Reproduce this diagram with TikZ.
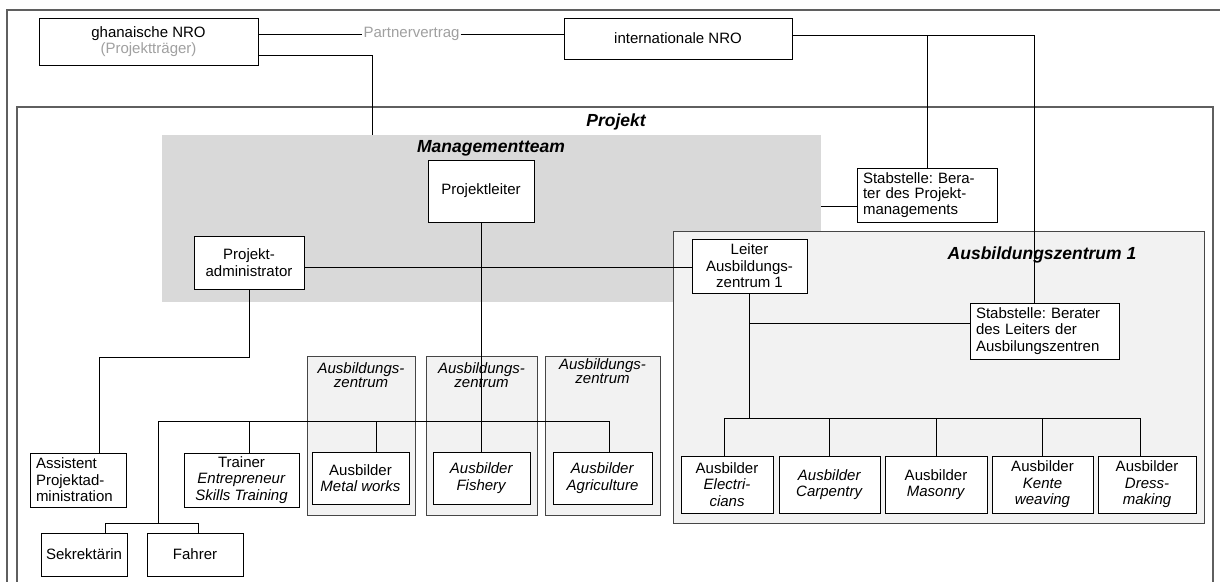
\documentclass[tikz,border=0pt]{standalone}
\usepackage{fontspec}
\setmainfont{Liberation Sans}
\frenchspacing
\definecolor{mgmtgray}{RGB}{217,217,217}
\definecolor{azfill}{RGB}{242,242,242}
\definecolor{azline}{RGB}{70,70,70}
\definecolor{frameline}{RGB}{95,95,95}
\definecolor{softtext}{RGB}{160,160,160}
\begin{document}
\begin{tikzpicture}[x=1pt,y=-1pt,
  txt/.style={font=\fontsize{15}{16.5}\selectfont\frenchspacing},
  box/.style={txt, draw=black, fill=white, line width=1pt, inner sep=2pt, align=center},
  lbox/.style={box, align=left, inner xsep=6pt},
  region/.style={draw=azline, fill=azfill, line width=1pt, inner sep=0pt},
  header/.style={font=\fontsize{17.5}{19}\selectfont\bfseries\itshape},
  azlabel/.style={font=\fontsize{15}{14.5}\selectfont\itshape, align=center},
  conn/.style={draw=black, line width=1pt},
  frame/.style={draw=frameline, line width=1.2pt}
]
\useasboundingbox (0,0) rectangle (1220,581);
\clip (0,0) rectangle (1220,581);
\fill[white] (0,0) rectangle (1220,581);

% outer frame and project frame
\draw[frame] (7,10) rectangle (1240,600);
\draw[frame, line width=1.6pt] (17,107) rectangle (1213,600);
\node[header] at (616,122) {Projekt};

% management team area
\node[fill=mgmtgray, minimum width=659pt, minimum height=167pt, inner sep=0pt] (mgmt) at (491.5,218.5) {};
\node[header] at (491,148) {Managementteam};

% training centre 1 area
\node[region, minimum width=531pt, minimum height=292pt] (az1) at (938.5,377) {};
\node[header] at (1042,255) {Ausbildungszentrum 1};

% small training centres
\node[region, minimum width=108pt, minimum height=159pt] (azM) at (361,435.5) {};
\node[region, minimum width=111pt, minimum height=159pt] (azF) at (481.5,435.5) {};
\node[region, minimum width=115pt, minimum height=159pt] (azA) at (602.5,435.5) {};
\node[azlabel] at (361,375) {Ausbildungs-\\zentrum};
\node[azlabel] at (481.5,375) {Ausbildungs-\\zentrum};
\node[azlabel] at (602.5,371) {Ausbildungs-\\zentrum};

% organisations
\node[box, minimum width=219pt, minimum height=47pt] (ghana) at (148.5,41.5)
  {ghanaische NRO\\\textcolor{softtext}{(Projektträger)}};
\node[box, minimum width=228pt, minimum height=41pt] (intl) at (678,38.5) {internationale NRO};
\node[txt, text=softtext, inner sep=1pt] (pv) at (411.5,34) {Partnervertrag};

% management
\node[box, minimum width=106pt, minimum height=62pt] (pl) at (481,191) {Projektleiter};
\node[box, minimum width=110pt, minimum height=53pt] (admin) at (249,262.5) {Projekt-\\administrator};
\node[box, minimum width=115pt, minimum height=54pt] (leiter) at (749.5,266) {Leiter\\Ausbildungs-\\zentrum 1};
\node[lbox, text width=128pt, minimum height=54pt, font=\fontsize{15}{15.5}\selectfont\frenchspacing] (stab1) at (927,195)
  {Stabstelle: Bera-\\ter des Projekt-\\managements};
\node[lbox, text width=137pt, minimum height=56pt] (stab2) at (1044.5,331)
  {Stabstelle: Berater\\des Leiters der\\Ausbilungszentren};

% administration and trainers
\node[lbox, text width=84pt, minimum height=54pt] (assist) at (78,480)
  {Assistent\\Projektad-\\ministration};
\node[box, minimum width=115pt, minimum height=54pt] (trainer) at (241.5,480)
  {Trainer\\\textit{Entrepreneur}\\\textit{Skills Training}};
\node[box, minimum width=97pt, minimum height=52pt] (metal) at (360.5,478) {Ausbilder\\\textit{Metal works}};
\node[box, minimum width=97pt, minimum height=52pt] (fish) at (481.5,478) {\textit{Ausbilder}\\\textit{Fishery}};
\node[box, minimum width=99pt, minimum height=52pt] (agri) at (602.5,478) {\textit{Ausbilder}\\\textit{Agriculture}};
\node[box, minimum width=86pt, minimum height=43pt] (sekr) at (84,554.5) {Sekrektärin};
\node[box, minimum width=96pt, minimum height=43pt] (fahrer) at (195,554.5) {Fahrer};

% trainers of training centre 1
\node[box, minimum width=92pt, minimum height=57pt] (elec) at (727,484.5) {Ausbilder\\\textit{Electri-}\\\textit{cians}};
\node[box, minimum width=101pt, minimum height=57pt] (carp) at (829.5,484.5) {\textit{Ausbilder}\\\textit{Carpentry}};
\node[box, minimum width=102pt, minimum height=57pt] (mas) at (936,484.5) {Ausbilder\\\textit{Masonry}};
\node[box, minimum width=101pt, minimum height=57pt] (kente) at (1042.5,484.5) {Ausbilder\\\textit{Kente}\\\textit{weaving}};
\node[box, minimum width=98pt, minimum height=57pt] (dress) at (1147,484.5) {Ausbilder\\\textit{Dress-}\\\textit{making}};

% junction points
\coordinate (g2) at (372,55);
\coordinate (i1) at (1034,35);
\coordinate (m1) at (839,206);
\coordinate (h1) at (500,267);
\coordinate (a1) at (99,357);
\coordinate (b0) at (158,421);
\coordinate (bT) at (249,421);
\coordinate (bM) at (376,421);
\coordinate (b5) at (609,421);
\coordinate (s0) at (158,523);
\coordinate (s1) at (105,523);
\coordinate (s2) at (198,523);
\coordinate (l1) at (748,323);
\coordinate (r0) at (724,418);
\coordinate (r4) at (1140,418);

% connectors
\draw[conn] (ghana.east |- pv) -- (pv.west);
\draw[conn] (pv.east) -- (intl.west |- pv);
\draw[conn] (ghana.east |- g2) -- (g2) -- (g2 |- mgmt.north);
\draw[conn] (intl.east |- i1) -- (i1) -- (i1 |- stab2.north);
\draw[conn] (stab1.north) -- (stab1.north |- i1);
\draw[conn] (mgmt.east |- m1) -- (stab1.west |- m1);
\draw[conn] (admin.east |- h1) -- (leiter.west |- h1);
\draw[conn] (pl.south) -- (pl.south |- fish.north);
\draw[conn] (admin.south) |- (a1) -- (a1 |- assist.north);
\draw[conn] (b0) -- (b5) -- (b5 |- agri.north);
\draw[conn] (bT) -- (bT |- trainer.north);
\draw[conn] (bM) -- (bM |- metal.north);
\draw[conn] (b0) -- (s0);
\draw[conn] (s1 |- sekr.north) -- (s1) -- (s2) -- (s2 |- fahrer.north);
\draw[conn] (leiter.south) -- (leiter.south |- r0);
\draw[conn] (leiter.south |- l1) -- (stab2.west |- l1);
\draw[conn] (r0 |- elec.north) -- (r0) -- (r4) -- (r4 |- dress.north);
\draw[conn] (carp.north) -- (carp.north |- r0);
\draw[conn] (mas.north) -- (mas.north |- r0);
\draw[conn] (kente.north) -- (kente.north |- r0);
\end{tikzpicture}
\end{document}
